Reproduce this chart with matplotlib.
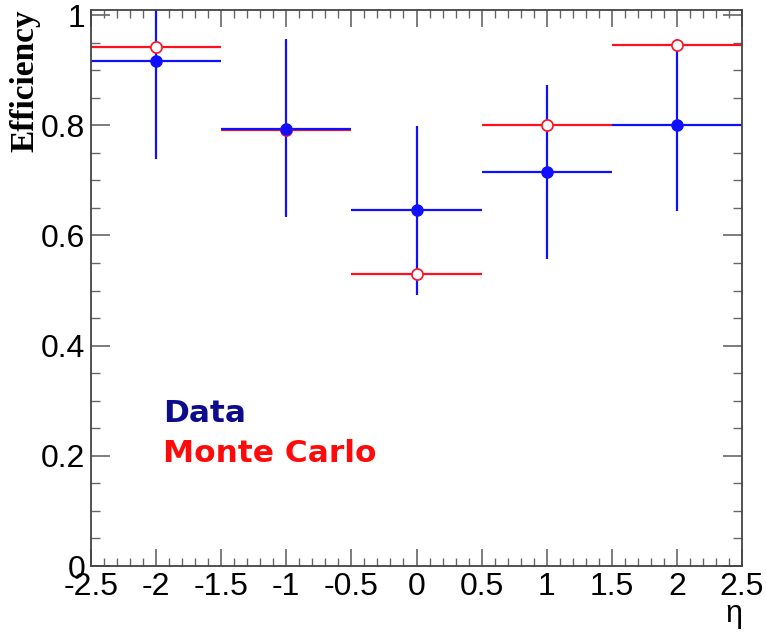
import numpy as np
import matplotlib
matplotlib.use("Agg")
import matplotlib.pyplot as plt
from matplotlib.ticker import MultipleLocator, FormatStrFormatter

plt.rcParams['axes.unicode_minus'] = False

# bins in eta
eta_centres = [-2, -1, 0, 1, 2]
bin_half_width = [0.5, 0.5, 0.5, 0.5, 0.5]

# data efficiency with asymmetric errors
data_eff = [0.917, 0.793, 0.646, 0.715, 0.800]
data_err_lo = [0.178, 0.159, 0.155, 0.157, 0.155]
data_err_hi = [0.110, 0.163, 0.153, 0.158, 0.156]

# monte carlo efficiency
mc_eff = [0.942, 0.791, 0.530, 0.800, 0.946]

xticks = [-2.5, -2, -1.5, -1, -0.5, 0, 0.5, 1, 1.5, 2, 2.5]
yticks = [0, 0.2, 0.4, 0.6, 0.8, 1.0]

fig = plt.figure(figsize=(7.66, 6.34), dpi=100)
ax = fig.add_axes([91 / 766, 1 - 566 / 634, 651 / 766, 556.5 / 634])

# MC first so data sits on top
ax.errorbar(eta_centres, mc_eff, xerr=bin_half_width, fmt='o', color='#ff1020',
            mfc='white', mec='#ff1020', ms=8, mew=1.2, elinewidth=1.6, capsize=0)
ax.errorbar(eta_centres, data_eff, xerr=bin_half_width,
            yerr=[data_err_lo, data_err_hi], fmt='o', color='#1010ff',
            ms=8, elinewidth=1.6, capsize=0)

ax.set_xlim(-2.5, 2.5)
ax.set_ylim(0, 1.01)

ax.xaxis.set_minor_locator(MultipleLocator(0.1))
ax.yaxis.set_minor_locator(MultipleLocator(0.05))
ax.set_xticks(xticks)
ax.set_yticks(yticks)
ax.xaxis.set_major_formatter(FormatStrFormatter('%g'))
ax.yaxis.set_major_formatter(FormatStrFormatter('%g'))

ax.tick_params(which='both', direction='in', top=True, right=True, colors='#666666',
               labelcolor='black', labelsize=23)
ax.tick_params(axis='x', which='major', length=12, width=1.2, pad=4)
ax.tick_params(axis='x', which='minor', length=6, width=1.0)
ax.tick_params(axis='y', which='major', length=13.5, width=1.2, pad=4)
ax.tick_params(axis='y', which='minor', length=6.5, width=1.0)
for lab in ax.get_xticklabels() + ax.get_yticklabels():
    lab.set_family('Liberation Sans')
for s in ax.spines.values():
    s.set_color('#444444')
    s.set_linewidth(1.3)

fig.text(742 / 766, 0.008, 'η', ha='right', va='bottom',
         fontsize=22, family='Liberation Sans')
fig.text(25 / 766, 1 - 9 / 634, 'Efficiency', rotation=90, ha='center', va='top',
         fontsize=24, fontweight='bold', family='Liberation Serif')

ax.text(0.111, 0.259, 'Data', transform=ax.transAxes, color='#0c0c8c',
        fontsize=22.5, fontweight='bold', family='DejaVu Sans', va='baseline')
ax.text(0.111, 0.187, 'Monte Carlo', transform=ax.transAxes, color='#ff0a0a',
        fontsize=22.5, fontweight='bold', family='DejaVu Sans', va='baseline')

fig.savefig('out.png', dpi=100)
